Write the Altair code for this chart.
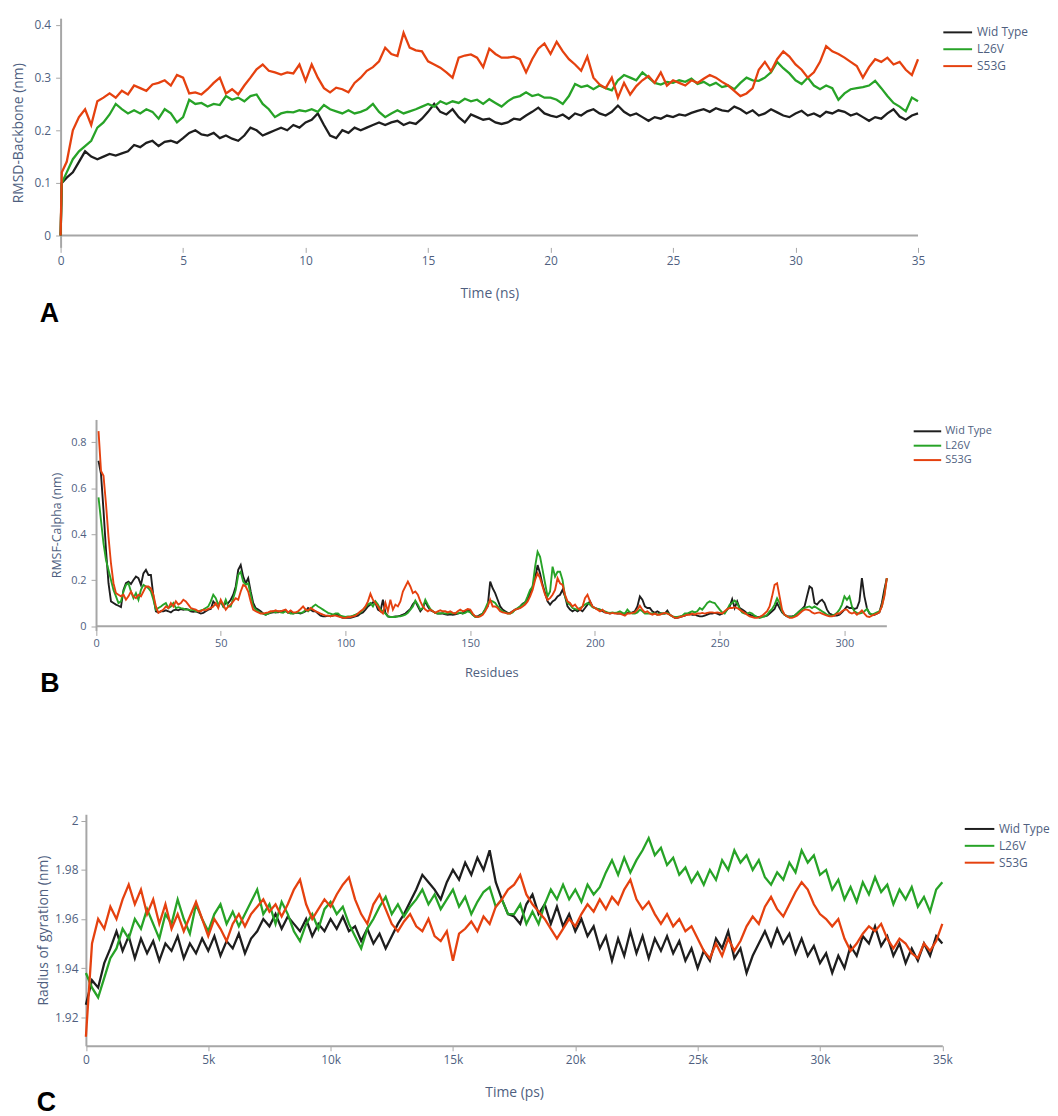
import altair as alt
import pandas as pd

SERIES = ["Wid Type", "L26V", "S53G"]
COLORS = ["#1e1e1e", "#27a327", "#e5410f"]

# ---------------- Panel A: RMSD backbone (nm) vs time (ns)
rmsd_time_ns = [0.0, 0.05] + [0.25 * i for i in range(1, 141)]
rmsd_wild = [0.0, 0.10,
    0.11, 0.12, 0.14, 0.16, 0.15, 0.145, 0.15, 0.155,
    0.152, 0.156, 0.16, 0.172, 0.168, 0.176, 0.18, 0.17,
    0.178, 0.18, 0.176, 0.185, 0.195, 0.2, 0.192, 0.19,
    0.195, 0.185, 0.19, 0.184, 0.18, 0.19, 0.205, 0.2,
    0.19, 0.195, 0.2, 0.205, 0.2, 0.21, 0.205, 0.215,
    0.22, 0.232, 0.21, 0.19, 0.185, 0.2, 0.195, 0.205,
    0.2, 0.205, 0.21, 0.215, 0.21, 0.215, 0.218, 0.21,
    0.215, 0.212, 0.222, 0.235, 0.25, 0.235, 0.23, 0.24,
    0.225, 0.215, 0.23, 0.225, 0.22, 0.222, 0.215, 0.212,
    0.215, 0.222, 0.22, 0.228, 0.235, 0.243, 0.232, 0.228,
    0.225, 0.23, 0.222, 0.232, 0.228, 0.236, 0.24, 0.232,
    0.228, 0.235, 0.247, 0.235, 0.228, 0.232, 0.225, 0.218,
    0.225, 0.222, 0.228, 0.225, 0.23, 0.228, 0.233, 0.237,
    0.24, 0.235, 0.242, 0.238, 0.236, 0.245, 0.24, 0.232,
    0.238, 0.228, 0.232, 0.24, 0.234, 0.228, 0.225, 0.232,
    0.237, 0.228, 0.232, 0.226, 0.235, 0.232, 0.238, 0.235,
    0.228, 0.232, 0.225, 0.218, 0.225, 0.222, 0.232, 0.24,
    0.226, 0.22, 0.228, 0.232]
rmsd_l26v = [0.0, 0.10,
    0.12, 0.145, 0.16, 0.17, 0.18, 0.205, 0.215, 0.23,
    0.25, 0.24, 0.232, 0.238, 0.232, 0.24, 0.235, 0.222,
    0.24, 0.232, 0.215, 0.225, 0.258, 0.25, 0.252, 0.245,
    0.25, 0.248, 0.265, 0.258, 0.262, 0.255, 0.265, 0.268,
    0.25, 0.24, 0.225, 0.232, 0.235, 0.234, 0.238, 0.236,
    0.24, 0.235, 0.248, 0.24, 0.236, 0.232, 0.238, 0.232,
    0.235, 0.24, 0.25, 0.235, 0.225, 0.232, 0.238, 0.232,
    0.236, 0.24, 0.245, 0.25, 0.245, 0.255, 0.25, 0.255,
    0.252, 0.26, 0.255, 0.258, 0.25, 0.259, 0.252, 0.245,
    0.255, 0.262, 0.265, 0.272, 0.265, 0.268, 0.262, 0.262,
    0.258, 0.25, 0.265, 0.288, 0.282, 0.285, 0.278, 0.285,
    0.28, 0.276, 0.295, 0.305, 0.3, 0.295, 0.31, 0.3,
    0.29, 0.287, 0.292, 0.29, 0.295, 0.292, 0.298, 0.288,
    0.292, 0.285, 0.29, 0.282, 0.285, 0.278, 0.29, 0.3,
    0.295, 0.294, 0.3, 0.31, 0.33, 0.318, 0.308, 0.295,
    0.288, 0.3, 0.285, 0.278, 0.285, 0.28, 0.258, 0.27,
    0.278, 0.28, 0.282, 0.285, 0.294, 0.28, 0.265, 0.252,
    0.245, 0.236, 0.262, 0.255]
rmsd_s53g = [0.0, 0.12,
    0.14, 0.2, 0.225, 0.24, 0.21, 0.255, 0.262, 0.27,
    0.262, 0.275, 0.268, 0.285, 0.28, 0.275, 0.287, 0.29,
    0.295, 0.285, 0.305, 0.3, 0.27, 0.272, 0.268, 0.278,
    0.29, 0.3, 0.27, 0.278, 0.268, 0.285, 0.3, 0.316,
    0.325, 0.313, 0.31, 0.306, 0.31, 0.308, 0.325, 0.294,
    0.325, 0.3, 0.28, 0.272, 0.281, 0.278, 0.272, 0.29,
    0.3, 0.313, 0.32, 0.331, 0.357, 0.345, 0.341, 0.385,
    0.357, 0.352, 0.35, 0.331, 0.325, 0.319, 0.31, 0.3,
    0.338, 0.342, 0.344, 0.338, 0.32, 0.355, 0.345, 0.338,
    0.338, 0.34, 0.335, 0.31, 0.335, 0.355, 0.365, 0.345,
    0.368, 0.35, 0.335, 0.325, 0.313, 0.34, 0.3, 0.287,
    0.28, 0.3, 0.262, 0.29, 0.268, 0.284, 0.295, 0.303,
    0.29, 0.31, 0.285, 0.295, 0.29, 0.285, 0.295, 0.29,
    0.298, 0.305, 0.3, 0.292, 0.285, 0.275, 0.265, 0.27,
    0.28, 0.315, 0.33, 0.312, 0.335, 0.35, 0.34, 0.325,
    0.315, 0.3, 0.31, 0.33, 0.36, 0.35, 0.345, 0.338,
    0.33, 0.322, 0.3, 0.32, 0.335, 0.33, 0.338, 0.325,
    0.33, 0.315, 0.305, 0.335]

# ---------------- Panel B: RMSF C-alpha, in thousandths of nm, per residue
rmsf_residue = list(range(1, 318))
rmsf_wild_mnm = [
    720, 662, 504, 331, 187, 108, 101, 94, 89, 83,
    158, 187, 194, 184, 201, 216, 209, 180, 230, 245,
    223, 223, 130, 65, 60, 65, 65, 69, 65, 60,
    69, 72, 69, 75, 72, 75, 72, 65, 63, 65,
    60, 55, 58, 65, 72, 75, 108, 94, 86, 108,
    86, 101, 101, 115, 137, 173, 245, 266, 216, 187,
    209, 151, 101, 79, 72, 65, 55, 50, 55, 58,
    60, 60, 60, 65, 65, 69, 58, 65, 55, 58,
    58, 55, 60, 65, 79, 72, 65, 65, 55, 46,
    43, 43, 46, 43, 46, 50, 50, 40, 36, 36,
    36, 36, 40, 43, 46, 55, 60, 72, 86, 94,
    104, 101, 72, 65, 115, 58, 43, 40, 40, 43,
    43, 46, 50, 55, 65, 75, 95, 108, 86, 65,
    79, 108, 86, 69, 65, 58, 55, 55, 55, 52,
    50, 52, 50, 52, 55, 58, 55, 65, 72, 65,
    50, 43, 43, 50, 55, 72, 86, 194, 165, 144,
    115, 86, 72, 65, 58, 58, 65, 72, 75, 86,
    98, 104, 115, 144, 173, 209, 266, 230, 180, 144,
    108, 94, 108, 115, 130, 137, 158, 130, 86, 72,
    65, 72, 65, 72, 65, 79, 94, 108, 86, 79,
    75, 72, 65, 60, 58, 55, 58, 58, 55, 55,
    55, 50, 58, 58, 60, 65, 86, 130, 115, 86,
    79, 79, 65, 58, 65, 58, 55, 55, 68, 50,
    43, 36, 36, 40, 43, 46, 50, 55, 50, 50,
    46, 43, 43, 46, 50, 55, 55, 58, 55, 50,
    55, 60, 72, 86, 118, 79, 108, 79, 72, 65,
    55, 50, 46, 43, 40, 40, 43, 43, 46, 55,
    65, 75, 101, 79, 60, 50, 43, 43, 43, 46,
    55, 65, 75, 86, 130, 173, 165, 101, 94, 108,
    115, 101, 72, 55, 50, 46, 46, 50, 60, 72,
    86, 79, 79, 75, 79, 108, 209, 130, 79, 55,
    50, 50, 55, 60, 101, 160, 209]
rmsf_l26v_mnm = [
    561, 460, 360, 288, 245, 201, 158, 130, 101, 108,
    151, 180, 187, 151, 122, 144, 115, 158, 180, 173,
    165, 151, 115, 72, 79, 86, 94, 101, 79, 86,
    101, 79, 83, 79, 76, 72, 72, 69, 72, 65,
    65, 69, 72, 79, 86, 108, 137, 122, 94, 108,
    86, 115, 86, 86, 122, 158, 223, 237, 194, 180,
    187, 137, 86, 72, 65, 58, 55, 50, 55, 60,
    65, 60, 65, 60, 58, 65, 60, 55, 55, 58,
    60, 58, 60, 72, 65, 75, 86, 94, 86, 79,
    72, 65, 58, 55, 50, 55, 55, 46, 43, 40,
    43, 43, 46, 50, 55, 60, 72, 83, 94, 101,
    86, 108, 94, 72, 65, 55, 43, 40, 40, 40,
    43, 43, 46, 50, 58, 72, 86, 112, 94, 72,
    79, 115, 94, 75, 65, 58, 55, 55, 58, 55,
    55, 58, 55, 58, 55, 60, 55, 58, 65, 60,
    50, 40, 40, 46, 55, 75, 101, 112, 108, 101,
    86, 72, 65, 60, 55, 55, 60, 72, 79, 86,
    94, 104, 130, 158, 173, 259, 324, 302, 245, 187,
    130, 151, 259, 216, 237, 237, 201, 130, 101, 94,
    79, 75, 72, 79, 86, 94, 101, 94, 83, 79,
    75, 72, 69, 65, 60, 58, 60, 58, 60, 65,
    58, 55, 72, 60, 55, 55, 60, 72, 65, 55,
    55, 55, 55, 55, 50, 55, 55, 55, 58, 50,
    43, 40, 40, 43, 46, 55, 55, 60, 65, 60,
    65, 79, 72, 86, 101, 108, 104, 101, 86, 72,
    60, 55, 72, 94, 101, 112, 101, 75, 60, 55,
    55, 60, 55, 46, 40, 36, 40, 43, 50, 65,
    75, 94, 122, 101, 65, 50, 43, 40, 40, 46,
    55, 65, 75, 79, 83, 86, 79, 86, 79, 72,
    65, 58, 50, 46, 46, 50, 58, 72, 94, 130,
    115, 130, 86, 65, 58, 55, 58, 65, 75, 58,
    50, 55, 60, 65, 86, 137, 209]
rmsf_s53g_mnm = [
    849, 676, 655, 532, 389, 273, 187, 144, 137, 130,
    137, 115, 130, 151, 130, 122, 137, 130, 151, 173,
    173, 165, 137, 86, 58, 65, 72, 86, 79, 101,
    86, 108, 94, 101, 115, 108, 94, 79, 75, 72,
    65, 65, 72, 69, 75, 79, 86, 101, 79, 115,
    94, 72, 86, 94, 108, 122, 115, 151, 180, 173,
    151, 108, 72, 65, 60, 55, 55, 58, 60, 65,
    65, 69, 65, 65, 69, 72, 60, 69, 60, 60,
    65, 75, 86, 72, 69, 79, 72, 65, 60, 55,
    50, 46, 46, 43, 46, 46, 43, 40, 36, 36,
    40, 40, 43, 46, 55, 65, 72, 86, 108, 141,
    115, 101, 86, 65, 55, 101, 65, 115, 72, 94,
    86, 108, 151, 173, 194, 173, 144, 151, 137, 108,
    86, 72, 65, 72, 65, 58, 65, 69, 65, 65,
    60, 65, 58, 55, 65, 72, 65, 69, 75, 72,
    55, 43, 40, 43, 50, 65, 86, 115, 86, 86,
    79, 65, 60, 58, 55, 55, 65, 72, 75, 79,
    86, 94, 108, 130, 158, 201, 230, 209, 173, 137,
    115, 122, 137, 158, 209, 187, 180, 137, 108, 101,
    86, 94, 79, 72, 86, 122, 137, 108, 86, 79,
    72, 65, 72, 60, 58, 55, 58, 55, 55, 55,
    50, 46, 55, 55, 58, 60, 72, 89, 72, 60,
    65, 55, 50, 55, 50, 50, 55, 58, 55, 50,
    43, 36, 36, 40, 43, 46, 50, 50, 55, 50,
    55, 55, 58, 55, 58, 60, 60, 58, 60, 58,
    55, 65, 75, 79, 79, 83, 79, 72, 65, 58,
    50, 43, 40, 36, 36, 40, 46, 55, 65, 86,
    130, 180, 187, 130, 72, 50, 43, 36, 36, 40,
    46, 55, 65, 72, 72, 69, 60, 55, 58, 60,
    55, 50, 46, 43, 43, 46, 55, 55, 65, 72,
    72, 60, 55, 60, 50, 58, 69, 55, 43, 40,
    46, 50, 55, 60, 86, 130, 209]

# ---------------- Panel C: radius of gyration (nm) vs time (ps)
rg_time_ps = [250 * i for i in range(141)]
rg_wild = [
    1.925, 1.935, 1.932, 1.942, 1.948, 1.955, 1.947, 1.953, 1.944, 1.952,
    1.946, 1.951, 1.943, 1.95, 1.947, 1.953, 1.944, 1.95, 1.946, 1.952,
    1.947, 1.953, 1.945, 1.951, 1.948, 1.954, 1.946, 1.952, 1.955, 1.96,
    1.957, 1.962, 1.956, 1.961, 1.958, 1.955, 1.96, 1.953, 1.958, 1.955,
    1.96, 1.956, 1.961, 1.955, 1.957, 1.951, 1.956, 1.95, 1.954, 1.948,
    1.953, 1.958, 1.962, 1.967, 1.972, 1.978, 1.975, 1.972, 1.968, 1.975,
    1.98, 1.976, 1.983, 1.978, 1.985, 1.98, 1.988, 1.975, 1.968, 1.962,
    1.961, 1.958, 1.966, 1.97, 1.962, 1.966, 1.958, 1.965, 1.957, 1.962,
    1.955, 1.96, 1.953, 1.957, 1.948, 1.953, 1.943, 1.952, 1.945, 1.955,
    1.946, 1.953, 1.944, 1.952, 1.947, 1.953, 1.946, 1.951, 1.943, 1.948,
    1.94, 1.947, 1.943, 1.952, 1.948, 1.955, 1.944, 1.948, 1.938, 1.945,
    1.95, 1.955, 1.949, 1.956, 1.95, 1.954, 1.946, 1.952, 1.945, 1.949,
    1.942, 1.946, 1.938, 1.945, 1.94, 1.949, 1.945, 1.953, 1.95, 1.957,
    1.949, 1.953, 1.945, 1.95, 1.942, 1.948, 1.943, 1.95, 1.945, 1.953,
    1.95]
rg_l26v = [
    1.938, 1.932, 1.928, 1.936, 1.944, 1.948, 1.956, 1.952, 1.96, 1.956,
    1.964, 1.958, 1.952, 1.962, 1.958, 1.968, 1.96, 1.954, 1.966, 1.96,
    1.955, 1.962, 1.966, 1.958, 1.963, 1.957, 1.962, 1.967, 1.972, 1.962,
    1.966, 1.958, 1.967, 1.962, 1.955, 1.951, 1.958, 1.962, 1.956, 1.964,
    1.967, 1.962, 1.965, 1.958, 1.953, 1.948, 1.956, 1.96, 1.965, 1.969,
    1.962, 1.966, 1.961, 1.965, 1.968, 1.972, 1.966, 1.97, 1.964, 1.968,
    1.972, 1.965, 1.969, 1.962, 1.967, 1.971, 1.973, 1.965, 1.968, 1.962,
    1.962, 1.966, 1.958, 1.963, 1.958, 1.966, 1.972, 1.968, 1.974, 1.968,
    1.972, 1.967, 1.974, 1.97, 1.973, 1.979, 1.984, 1.978, 1.985, 1.979,
    1.984, 1.988, 1.993, 1.986, 1.989, 1.982, 1.985, 1.978, 1.981, 1.975,
    1.979, 1.974, 1.98, 1.976, 1.984, 1.98, 1.988, 1.983, 1.986, 1.98,
    1.984, 1.977, 1.974, 1.979, 1.976, 1.983, 1.979, 1.988, 1.983, 1.986,
    1.978, 1.98, 1.972, 1.976, 1.968, 1.973, 1.967, 1.975, 1.97, 1.977,
    1.971, 1.974, 1.966, 1.972, 1.968, 1.973, 1.965, 1.969, 1.963, 1.972,
    1.975]
rg_s53g = [
    1.912, 1.95, 1.96, 1.956, 1.965, 1.96, 1.968, 1.974, 1.966, 1.972,
    1.962, 1.968, 1.958, 1.966, 1.956, 1.962, 1.955, 1.961, 1.967, 1.96,
    1.953, 1.96, 1.956, 1.951, 1.958, 1.962, 1.957, 1.962, 1.965, 1.968,
    1.963, 1.966, 1.961, 1.966, 1.972, 1.976, 1.966, 1.96, 1.964, 1.968,
    1.965, 1.97, 1.974, 1.977, 1.968, 1.962, 1.958, 1.966, 1.97, 1.964,
    1.958, 1.955, 1.959, 1.962, 1.957, 1.955, 1.96, 1.953, 1.951, 1.955,
    1.943, 1.954, 1.956, 1.959, 1.955, 1.961, 1.958, 1.965, 1.968, 1.972,
    1.974, 1.978, 1.97, 1.966, 1.963, 1.96, 1.956, 1.952, 1.956, 1.96,
    1.957, 1.962, 1.966, 1.963, 1.968, 1.964, 1.969, 1.966, 1.972, 1.976,
    1.968, 1.964, 1.967, 1.962, 1.958, 1.962, 1.957, 1.96, 1.955, 1.957,
    1.952, 1.947, 1.944, 1.95, 1.945, 1.952, 1.947, 1.951, 1.957, 1.961,
    1.958, 1.965, 1.969, 1.964, 1.961, 1.966, 1.971, 1.975, 1.972, 1.966,
    1.962, 1.96, 1.957, 1.96, 1.952, 1.947, 1.95, 1.954, 1.957, 1.955,
    1.958, 1.952, 1.948, 1.952, 1.95, 1.946, 1.944, 1.95, 1.947, 1.951,
    1.958]


def long_table(xs, columns):
    rows = []
    for name, ys in zip(SERIES, columns):
        assert len(xs) == len(ys), (name, len(xs), len(ys))
        for xv, yv in zip(xs, ys):
            rows.append({"x": xv, "y": yv, "series": name})
    return pd.DataFrame(rows)


dfA = long_table(rmsd_time_ns, [rmsd_wild, rmsd_l26v, rmsd_s53g])
dfB = long_table(rmsf_residue, [[v / 1000 for v in s] for s in
                                (rmsf_wild_mnm, rmsf_l26v_mnm, rmsf_s53g_mnm)])
dfC = long_table(rg_time_ps, [rg_wild, rg_l26v, rg_s53g])

# ---------------- styling / layout
W, H = 1050, 1108
FONT = "Open Sans"
INK = "#4f5f7f"
GRAY = "#a6a6a6"


def y_axis(title, offset, values, fmt, title_x, title_y, label_size, title_size, label_pad):
    return alt.Axis(orient="left", offset=offset, values=values, format=fmt, title=title,
                    titleX=title_x, titleY=title_y, titleAngle=270, titleBaseline="middle",
                    titleAlign="center", grid=False, domain=True, domainColor=GRAY,
                    domainWidth=2, ticks=True, tickColor=GRAY, tickSize=5, tickWidth=1,
                    labelPadding=label_pad, labelFont=FONT, labelFontSize=label_size,
                    labelColor=INK, titleFont=FONT, titleFontSize=title_size,
                    titleFontWeight="normal", titleColor=INK)


def x_axis(title, offset, values, title_x, title_y, label_size, title_size, label_pad,
           show_domain, label_expr=None):
    kw = dict(orient="bottom", offset=offset, values=values, title=title,
              titleX=title_x, titleY=title_y, titleBaseline="middle", titleAlign="center",
              grid=False, domain=show_domain, domainColor=GRAY, domainWidth=2,
              ticks=True, tickColor=GRAY, tickSize=5, tickWidth=1,
              labelPadding=label_pad, labelFont=FONT, labelFontSize=label_size,
              labelColor=INK, labelFlush=False, labelOverlap=False,
              titleFont=FONT, titleFontSize=title_size, titleFontWeight="normal",
              titleColor=INK)
    if label_expr is not None:
        kw["labelExpr"] = label_expr
    return alt.Axis(**kw)


def legend(lx, ly, size, font_size, label_offset, row_pad):
    return alt.Legend(orient="none", legendX=lx, legendY=ly, title=None,
                      symbolType="M-2,0H2", symbolSize=size, symbolStrokeWidth=2,
                      labelFont=FONT, labelFontSize=font_size, labelColor=INK,
                      labelOffset=label_offset, rowPadding=row_pad, padding=0)


def color(leg):
    return alt.Color("series:N", scale=alt.Scale(domain=SERIES, range=COLORS), legend=leg)


def zero_line(x_dom, x_rng, y_dom, y_rng, x_end):
    return alt.Chart(alt.Data(values=[{"a": 0, "b": x_end, "z": 0}])).mark_rule(
        color=GRAY, strokeWidth=2).encode(
        x=alt.X("a:Q", scale=alt.Scale(domain=x_dom, range=x_rng, nice=False, zero=False), axis=None),
        x2="b:Q",
        y=alt.Y("z:Q", scale=alt.Scale(domain=y_dom, range=y_rng, nice=False, zero=False), axis=None))


# Panel A
A_XD, A_XR = [0, 35], [53, 917]
A_YD, A_YR = [-0.0226, 0.413], [237, 6]
zeroA = zero_line(A_XD, A_XR, A_YD, A_YR, 35)
lineA = alt.Chart(dfA).mark_line(strokeWidth=2.3).encode(
    x=alt.X("x:Q", scale=alt.Scale(domain=A_XD, range=A_XR, nice=False, zero=False),
            axis=x_axis("Time (ns)", 237 - H, list(range(0, 36, 5)), 485, 46, 12, 14, 3, False)),
    y=alt.Y("y:Q", scale=alt.Scale(domain=A_YD, range=A_YR, nice=False, zero=False),
            axis=y_axis("RMSD-Backbone (nm)", -53, [0, 0.1, 0.2, 0.3, 0.4], ".1~f",
                        -42.4, 121.5, 12, 14, 5)),
    color=color(legend(948.5, 11.8, 210, 12, 11, 2)),
)

# Panel B
B_XD, B_XR = [0, 317], [88.7, 885.6]
B_YD, B_YR = [-0.0186, 0.9], [623, 410.35]
zeroB = zero_line(B_XD, B_XR, B_YD, B_YR, 317)
lineB = alt.Chart(dfB).mark_line(strokeWidth=1.9).encode(
    x=alt.X("x:Q", scale=alt.Scale(domain=B_XD, range=B_XR, nice=False, zero=False),
            axis=x_axis("Residues", 623 - H, list(range(0, 301, 50)), 487, 42, 11, 13, 2, False)),
    y=alt.Y("y:Q", scale=alt.Scale(domain=B_YD, range=B_YR, nice=False, zero=False),
            axis=y_axis("RMSF-Calpha (nm)", -88.7, [0, 0.2, 0.4, 0.6, 0.8], ".1~f",
                        -39.3, 516.7, 11, 12.5, 5)),
    color=color(legend(918.5, 414.3, 192, 11, 10, 1.5)),
)

# Panel C
C_XD, C_XR = [0, 35000], [78.5, 941.5]
C_YD, C_YR = [1.9083, 2.0027], [1041.5, 808.2]
lineC = alt.Chart(dfC).mark_line(strokeWidth=2.3).encode(
    x=alt.X("x:Q", scale=alt.Scale(domain=C_XD, range=C_XR, nice=False, zero=False),
            axis=x_axis("Time (ps)", 1041.5 - H, list(range(0, 35001, 5000)), 510, 46.7,
                        12, 14, 4, True,
                        label_expr="datum.value == 0 ? '0' : (datum.value / 1000) + 'k'")),
    y=alt.Y("y:Q", scale=alt.Scale(domain=C_YD, range=C_YR, nice=False, zero=False),
            axis=y_axis("Radius of gyration (nm)", -78.5, [1.92, 1.94, 1.96, 1.98, 2.0],
                        ".2~f", -42.5, 924.9, 12, 14, 3)),
    color=color(legend(970.5, 814.5, 222, 12, 11, 2)),
)


def letter(ch, px, py):
    return alt.Chart(alt.Data(values=[{}])).mark_text(
        text=ch, font="Liberation Sans", fontSize=27, fontWeight="bold",
        align="left", baseline="alphabetic", color="#000000").encode(
        x=alt.value(px), y=alt.value(py))


chart = alt.layer(
    zeroA, lineA, zeroB, lineB, lineC,
    letter("A", 32, 312.5), letter("B", 32.5, 684.7), letter("C", 29, 1107),
).resolve_scale(
    x="independent", y="independent", color="independent"
).resolve_axis(
    x="independent", y="independent"
).resolve_legend(
    color="independent"
).properties(
    width=W, height=H, padding=0, autosize=alt.AutoSizeParams(type="none")
).configure_view(stroke=None)

chart.save("out.html", embed_options={"renderer": "svg", "actions": False})
